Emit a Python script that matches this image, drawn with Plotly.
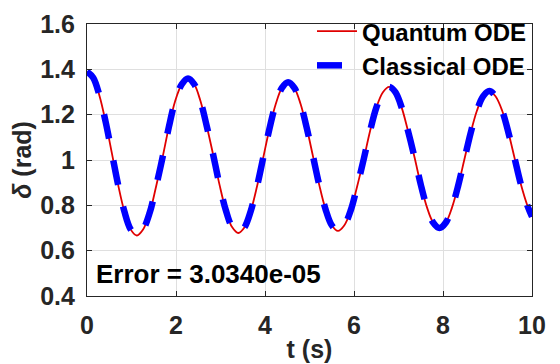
import plotly.graph_objects as go

# time samples (s) and rotor angle (rad)
t = [0.00, 0.14, 0.28, 0.42, 0.56, 0.70, 0.84, 0.98, 1.12,
     1.26, 1.41, 1.55, 1.70, 1.84, 1.98, 2.13, 2.27,
     2.41, 2.55, 2.69, 2.84, 2.98, 3.12, 3.26, 3.40,
     3.54, 3.68, 3.82, 3.96, 4.10, 4.24, 4.38, 4.52,
     4.66, 4.80, 4.94, 5.08, 5.22, 5.36, 5.50, 5.64,
     5.78, 5.93, 6.07, 6.22, 6.36, 6.50, 6.65, 6.79,
     6.93, 7.07, 7.21, 7.36, 7.50, 7.64, 7.78, 7.92,
     8.06, 8.20, 8.34, 8.48, 8.62, 8.76, 8.90, 9.04,
     9.18, 9.33, 9.47, 9.61, 9.75, 9.90, 10.00]

delta_quantum = [1.390, 1.363, 1.284, 1.167, 1.029, 0.890, 0.773, 0.694, 0.667,
                 0.693, 0.768, 0.881, 1.013, 1.146, 1.259, 1.334, 1.360,
                 1.334, 1.260, 1.150, 1.019, 0.889, 0.778, 0.704, 0.678,
                 0.703, 0.775, 0.883, 1.010, 1.138, 1.246, 1.318, 1.343,
                 1.318, 1.247, 1.140, 1.015, 0.889, 0.783, 0.712, 0.687,
                 0.711, 0.780, 0.883, 1.005, 1.127, 1.230, 1.299, 1.323,
                 1.299, 1.232, 1.131, 1.012, 0.892, 0.791, 0.724, 0.700,
                 0.723, 0.789, 0.886, 1.002, 1.118, 1.216, 1.281, 1.304,
                 1.281, 1.217, 1.121, 1.007, 0.893, 0.797, 0.750]

# classical solution overlaps the quantum one (error ~3e-5)
delta_classical = list(delta_quantum)

error_text = "Error = 3.0340e-05"

FONT = "Liberation Sans, Arial, sans-serif"
AXC = "#262626"

fig = go.Figure()
fig.add_trace(go.Scatter(
    x=t, y=delta_quantum, mode="lines", name="Quantum ODE",
    line=dict(color="#e00000", width=1.8, shape="spline"),
))
fig.add_trace(go.Scatter(
    x=t, y=delta_classical, mode="lines", name="Classical ODE",
    line=dict(color="#0000ff", width=6.5, dash="25px,22px", shape="spline"),
))

fig.add_annotation(
    xref="paper", yref="paper", x=0.016, y=0.081,
    xanchor="left", yanchor="middle", showarrow=False,
    text=error_text, font=dict(family=FONT, size=26, color="black", weight="bold"),
)

axis_common = dict(
    showline=True, linecolor=AXC, linewidth=1.2, mirror="ticks",
    ticks="inside", ticklen=5, tickcolor=AXC, tickwidth=1,
    showgrid=True, gridcolor="#dfdfdf", gridwidth=1, zeroline=False,
    automargin=False,
    tickfont=dict(family=FONT, size=25, color=AXC, weight="bold"),
)

# page body adds an 8px offset, so margins are shifted to compensate
fig.update_layout(
    width=560, height=364,
    margin=dict(l=79, r=36, t=16, b=76, autoexpand=False),
    paper_bgcolor="white", plot_bgcolor="white",
    xaxis=dict(range=[0, 10], dtick=2, ticklabelstandoff=7,
               title=dict(text="t (s)", standoff=2,
                          font=dict(family=FONT, size=25, color=AXC, weight="bold")),
               **axis_common),
    yaxis=dict(range=[0.4, 1.6], dtick=0.2, ticklabelstandoff=6,
               title=dict(text="<i>δ</i> (rad)", standoff=2,
                          font=dict(family=FONT, size=25, color=AXC, weight="bold")),
               **axis_common),
    legend=dict(x=1, y=1.055, xanchor="right", yanchor="top",
                bgcolor="rgba(0,0,0,0)", borderwidth=0,
                font=dict(family=FONT, size=24, color="black", weight="bold"),
                itemwidth=40, tracegroupgap=0),
    showlegend=True,
)

fig.write_html("out.html")
